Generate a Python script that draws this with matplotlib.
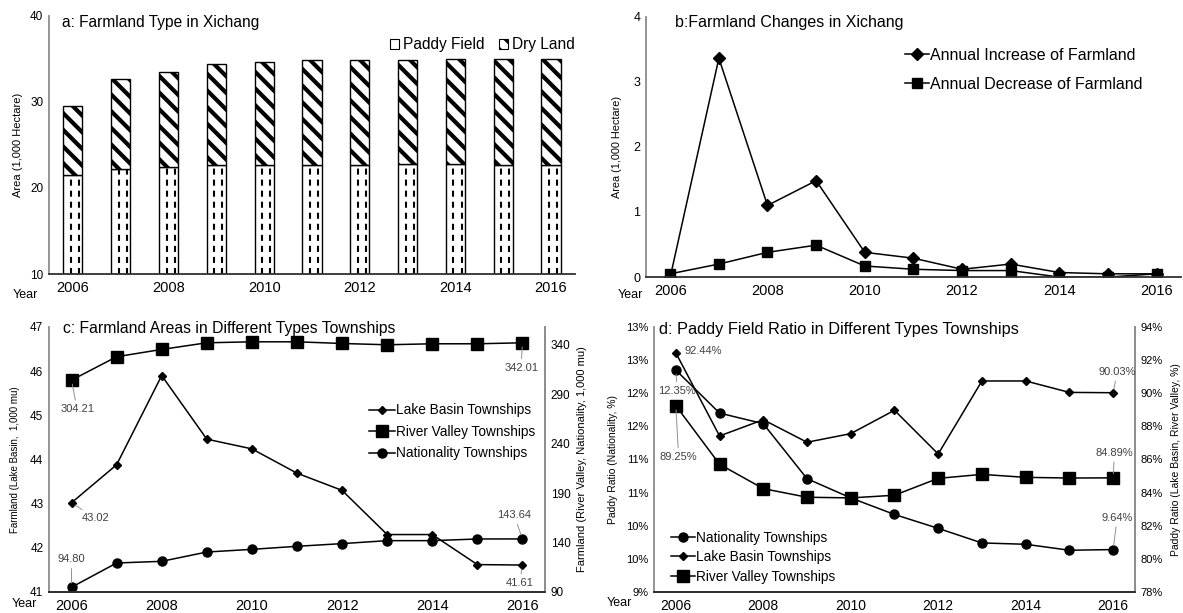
import numpy as np
import matplotlib

matplotlib.use("Agg")
import matplotlib.pyplot as plt
from matplotlib.patches import Patch
from matplotlib.ticker import FuncFormatter

plt.rcParams["font.family"] = ["Liberation Sans", "DejaVu Sans"]
plt.rcParams["hatch.linewidth"] = 3.0

years = [2006, 2007, 2008, 2009, 2010, 2011, 2012, 2013, 2014, 2015, 2016]
year_ticks = [2006, 2008, 2010, 2012, 2014, 2016]

# a: farmland type (1,000 hectare)
paddy_field = [21.54, 22.19, 22.43, 22.62, 22.62, 22.62, 22.70, 22.78, 22.78, 22.70, 22.70]
dry_land = [7.97, 10.50, 11.03, 11.81, 12.04, 12.20, 12.12, 12.15, 12.19, 12.35, 12.35]

# b: annual changes (1,000 hectare)
annual_increase = [0.0, 3.36, 1.10, 1.48, 0.38, 0.29, 0.12, 0.20, 0.07, 0.05, 0.05]
annual_decrease = [0.05, 0.20, 0.38, 0.49, 0.17, 0.12, 0.10, 0.10, 0.0, 0.0, 0.05]

# c: farmland by township type (1,000 mu)
lake_area = [43.02, 43.88, 45.90, 44.46, 44.24, 43.69, 43.30, 42.30, 42.30, 41.62, 41.61]
river_area = [304.21, 327.9, 335.3, 342.0, 343.0, 343.0, 341.3, 340.0, 341.0, 341.0, 342.01]
nation_area = [94.80, 119.3, 121.0, 130.4, 133.1, 136.2, 138.9, 141.9, 141.9, 143.6, 143.64]

# d: paddy ratio by township type (%)
nation_ratio = [12.35, 11.70, 11.54, 10.71, 10.42, 10.17, 9.96, 9.74, 9.72, 9.63, 9.64]
lake_ratio = [92.44, 87.42, 88.40, 87.04, 87.56, 88.97, 86.33, 90.74, 90.74, 90.05, 90.03]
river_ratio = [89.25, 85.71, 84.24, 83.72, 83.68, 83.84, 84.86, 85.10, 84.92, 84.88, 84.89]

SPINE = "#8c8c8c"
LBL = "#404040"


def style_axis(ax, right=False, xsize=10.5):
    ax.spines["top"].set_visible(False)
    ax.spines["right"].set_visible(right)
    for s in ax.spines.values():
        s.set_color(SPINE)
        s.set_linewidth(1.3)
    ax.spines["bottom"].set_color("#303030")
    ax.set_xlim(2005.5, 2016.5)
    ax.set_xticks(year_ticks)
    ax.tick_params(length=0, pad=4)
    ax.tick_params(axis="x", labelsize=xsize, pad=5)


def label(ax, text, xy, off):
    ax.annotate(text, xy=xy, xytext=off, textcoords="offset points",
                ha="center", va="center", fontsize=8, color=LBL,
                arrowprops=dict(arrowstyle="-", color="#909090", lw=0.7,
                                shrinkA=1, shrinkB=3))


fig = plt.figure(figsize=(11.83, 6.13), dpi=100)

# ---- a
ax = fig.add_axes([0.0414, 0.553, 0.4446, 0.421])
style_axis(ax)
x = np.array(years)
w = 0.4
ax.bar(x, np.array(paddy_field) - 10, w, bottom=10, color="white", edgecolor="black", lw=1)
ax.bar(x, dry_land, w, bottom=paddy_field, color="white", edgecolor="black", lw=1, hatch="\\\\")
for off in (-0.10, 0.32):
    ax.vlines(x + off * w, 10, paddy_field, colors="black", lw=1.5, linestyles=(0, (2.9, 2.4)))
ax.set_ylim(10, 40)
ax.set_yticks([10, 20, 30, 40])
ax.tick_params(axis="y", labelsize=8.5)
ax.set_ylabel("Area (1,000 Hectare)", fontsize=8, labelpad=5)
ax.text(0.024, 0.957, "a: Farmland Type in Xichang", transform=ax.transAxes, fontsize=11.2, va="baseline")
handles = [Patch(facecolor="white", edgecolor="black", lw=0.8),
           Patch(facecolor="white", edgecolor="black", lw=0.8, hatch="\\\\")]
ax.legend(handles, ["Paddy Field", "Dry Land"], ncol=2, loc="center right", bbox_to_anchor=(1.026, 0.888),
          frameon=False, fontsize=11.2, handlelength=0.6, handleheight=0.6, handletextpad=0.25, columnspacing=0.9)

# ---- b
ax = fig.add_axes([0.546, 0.548, 0.4522, 0.425])
style_axis(ax)
ax.plot(years, annual_increase, color="black", lw=1.1, marker="D", ms=6, label="Annual Increase of Farmland")
ax.plot(years, annual_decrease, color="black", lw=1.1, marker="s", ms=7, label="Annual Decrease of Farmland")
ax.set_ylim(0, 4)
ax.set_yticks([0, 1, 2, 3, 4])
ax.tick_params(axis="y", labelsize=9)
ax.set_ylabel("Area (1,000 Hectare)", fontsize=7.8, labelpad=8)
ax.text(0.054, 0.96, "b:Farmland Changes in Xichang", transform=ax.transAxes, fontsize=11.5, va="baseline")
ax.legend(loc="center right", bbox_to_anchor=(0.956, 0.796), frameon=False, fontsize=11.5,
          handlelength=1.5, handletextpad=0.1, labelspacing=0.9)

# ---- c
ax = fig.add_axes([0.0414, 0.0343, 0.4193, 0.4323])
style_axis(ax, right=True)
ax2 = ax.twinx()
style_axis(ax2, right=True)
ax2.spines["left"].set_visible(False)
l1, = ax.plot(years, lake_area, color="black", lw=1.1, marker="D", ms=4.5, label="Lake Basin Townships")
l2, = ax2.plot(years, river_area, color="black", lw=1.1, marker="s", ms=8, label="River Valley Townships")
l3, = ax2.plot(years, nation_area, color="black", lw=1.1, marker="o", ms=6.5, label="Nationality Townships")
ax.set_ylim(41, 47)
ax.set_yticks(range(41, 48))
ax2.set_ylim(90, 358)
ax2.set_yticks([90, 140, 190, 240, 290, 340])
ax.tick_params(axis="y", labelsize=8.5)
ax2.tick_params(axis="y", labelsize=8.5)
ax.set_ylabel("Farmland (Lake Basin,  1,000 mu)", fontsize=7, labelpad=7)
ax2.set_ylabel("Farmland (River Valley, Nationality, 1,000 mu)", fontsize=8, labelpad=5)
ax.text(0.029, 0.976, "c: Farmland Areas in Different Types Townships", transform=ax.transAxes,
        fontsize=11.3, va="baseline")
ax.legend([l1, l2, l3], [l.get_label() for l in (l1, l2, l3)], loc="center right",
          bbox_to_anchor=(1.005, 0.604), frameon=False, fontsize=9.8, handlelength=1.85,
          handletextpad=0.1, labelspacing=0.55)
label(ax2, "304.21", (years[0], river_area[0]), (4, -21))
label(ax2, "342.01", (years[-1], river_area[-1]), (-1, -18))
label(ax, "43.02", (years[0], lake_area[0]), (17, -11))
label(ax2, "94.80", (years[0], nation_area[0]), (0, 20))
label(ax2, "143.64", (years[-1], nation_area[-1]), (-6, 17))
label(ax, "41.61", (years[-1], lake_area[-1]), (-2, -13))

# ---- d
ax = fig.add_axes([0.5528, 0.0343, 0.4066, 0.4323])
style_axis(ax, right=True, xsize=10)
ax2 = ax.twinx()
style_axis(ax2, right=True, xsize=10)
ax2.spines["left"].set_visible(False)
n1, = ax.plot(years, nation_ratio, color="black", lw=1.1, marker="o", ms=6.5, label="Nationality Townships")
n2, = ax2.plot(years, lake_ratio, color="black", lw=1.1, marker="D", ms=4.5, label="Lake Basin Townships")
n3, = ax2.plot(years, river_ratio, color="black", lw=1.1, marker="s", ms=8, label="River Valley Townships")
ax.set_ylim(9, 13)
ax.set_yticks(np.arange(9, 13.01, 0.5))
ax.yaxis.set_major_formatter(FuncFormatter(lambda v, p: f"{int(np.floor(v + 0.5))}%"))
ax2.set_ylim(78, 94)
ax2.set_yticks(range(78, 95, 2))
ax2.yaxis.set_major_formatter(FuncFormatter(lambda v, p: f"{v:.0f}%"))
ax.tick_params(axis="y", labelsize=8)
ax2.tick_params(axis="y", labelsize=8)
ax.set_ylabel("Paddy Ratio (Nationality, %)", fontsize=7.5, labelpad=6)
ax2.set_ylabel("Paddy Ratio (Lake Basin, River Valley, %)", fontsize=7.5, labelpad=6)
ax.text(0.01, 0.974, "d: Paddy Field Ratio in Different Types Townships", transform=ax.transAxes,
        fontsize=11.8, va="baseline")
ax.legend([n1, n2, n3], [l.get_label() for l in (n1, n2, n3)], loc="center left",
          bbox_to_anchor=(0.01, 0.131), frameon=False, fontsize=9.8, handlelength=1.75,
          handletextpad=0.1, labelspacing=0.4)
label(ax2, "92.44%", (years[0], lake_ratio[0]), (20, 1))
label(ax, "12.35%", (years[0], nation_ratio[0]), (1, -15))
label(ax2, "89.25%", (years[0], river_ratio[0]), (2, -37))
label(ax2, "90.03%", (years[-1], lake_ratio[-1]), (3, 15))
label(ax2, "84.89%", (years[-1], river_ratio[-1]), (1, 18))
label(ax, "9.64%", (years[-1], nation_ratio[-1]), (3, 23))

for xf, yf in [(0.011, 0.519), (0.522, 0.519), (0.0097, 0.0147), (0.513, 0.016)]:
    fig.text(xf, yf, "Year", fontsize=9, ha="left", va="center")

fig.savefig("out.png", dpi=100, facecolor="white")
